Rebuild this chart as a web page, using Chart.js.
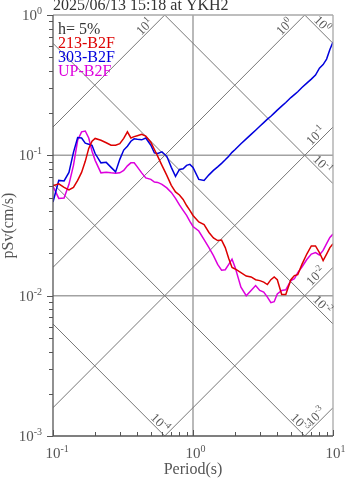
<!DOCTYPE html>
<html>
<head>
<meta charset="utf-8">
<script src="https://cdn.jsdelivr.net/npm/chart.js@4/dist/chart.umd.min.js"></script>
<style>
body{margin:0;background:#fff;}
#holder{width:347px;height:478px;position:relative;}
</style>
</head>
<body>
<div id="holder"><canvas id="chart-area"></canvas></div>
<script>
// chart data (period in s, pSv in cm/s)
var titleText = '2025/06/13 15:18 at YKH2';
var dampText = 'h= 5%';
var seriesNames = ['213-B2F', '303-B2F', 'UP-B2F'];
var seriesColors = ['#dd0000', '#0000dd', '#dd00dd'];
var periods = [0.10,0.11,0.12,0.13,0.14,0.15,0.16,0.17,0.18,0.19,0.20,0.22,0.24,0.26,0.28,0.30,0.32,0.34,0.36,0.38,0.40,0.43,0.46,0.50,0.53,0.56,0.60,0.65,0.70,0.75,0.80,0.85,0.90,0.95,1.0,1.1,1.2,1.3,1.4,1.5,1.6,1.7,1.8,1.9,2.0,2.2,2.4,2.6,2.8,3.0,3.2,3.4,3.6,3.8,4.0,4.3,4.6,5.0,5.3,5.6,6.0,6.5,7.0,7.5,8.0,8.5,9.0,9.5,10];
var sv213 = [0.0606,0.0626,0.0591,0.0567,0.0591,0.0663,0.0756,0.0906,0.112,0.126,0.132,0.128,0.123,0.118,0.118,0.121,0.132,0.147,0.133,0.136,0.138,0.141,0.137,0.124,0.110,0.0984,0.0848,0.0720,0.0611,0.0549,0.0522,0.0485,0.0439,0.0405,0.0373,0.0335,0.0321,0.0282,0.0258,0.0247,0.0249,0.0220,0.0184,0.0159,0.0155,0.0146,0.0138,0.0136,0.0130,0.0128,0.0125,0.0120,0.0130,0.0136,0.0130,0.0102,0.0102,0.0130,0.0139,0.0141,0.0167,0.0198,0.0226,0.0226,0.0203,0.0178,0.0198,0.0220,0.0234];
var sv303 = [0.0465,0.0663,0.0657,0.0756,0.105,0.134,0.133,0.122,0.120,0.118,0.103,0.0884,0.0891,0.0821,0.0762,0.0936,0.109,0.116,0.126,0.131,0.130,0.129,0.133,0.118,0.104,0.103,0.106,0.0984,0.0821,0.0708,0.0794,0.0801,0.0848,0.0862,0.0821,0.0674,0.0663,0.0726,0.0781,0.0828,0.0877,0.0929,0.0984,0.105,0.110,0.121,0.131,0.141,0.151,0.161,0.171,0.181,0.190,0.200,0.210,0.224,0.238,0.258,0.271,0.284,0.304,0.327,0.349,0.373,0.418,0.443,0.485,0.567,0.641];
var svUP = [0.0601,0.0493,0.0497,0.0621,0.0848,0.128,0.147,0.149,0.133,0.107,0.0921,0.0750,0.0759,0.0750,0.0744,0.0750,0.0781,0.0841,0.0884,0.0884,0.0828,0.0750,0.0691,0.0674,0.0645,0.0641,0.0621,0.0586,0.0544,0.0493,0.0443,0.0405,0.0373,0.0338,0.0311,0.0289,0.0251,0.0220,0.0193,0.0167,0.0152,0.0153,0.0167,0.0182,0.0159,0.0115,0.0100,0.0109,0.0118,0.0109,0.0106,0.00976,0.00891,0.00906,0.0103,0.0109,0.0110,0.0128,0.0132,0.0146,0.0160,0.0181,0.0198,0.0203,0.0195,0.0210,0.0235,0.0260,0.0275];

// axes and tripartite reference lines
var tMin = 0.1, tMax = 10, vMin = 0.001, vMax = 1;
var xDecades = [0.1, 1, 10];
var yDecades = [0.001, 0.01, 0.1, 1];
var accLevels = [10, 1, 0.1, 0.01, 0.001];      // pSa lines
var dispLevels = [1, 0.1, 0.01, 0.001, 0.0001]; // Sd lines

var SERIF = '"Liberation Serif", "Times New Roman", serif';

function toPoints(xs, ys) {
    var pts = [];
    for (var i = 0; i < xs.length; i++) pts.push({x: xs[i], y: ys[i]});
    return pts;
}
function expText(v) {
    return String(Math.round(Math.log10(v)));
}
//"10" with a raised exponent
function drawPow(ctx, v, x, y, size, align) {
    var base = '10', ex = expText(v);
    var es = Math.round(size * 0.66);
    ctx.font = size + 'px ' + SERIF;
    var w1 = ctx.measureText(base).width;
    ctx.font = es + 'px ' + SERIF;
    var w2 = ctx.measureText(ex).width;
    var x0 = x;
    if (align == 'right') x0 = x - w1 - w2;
    else if (align == 'center') x0 = x - (w1 + w2) / 2;
    else if (align == 'base') x0 = x - w1 / 2;
    ctx.textAlign = 'left';
    ctx.textBaseline = 'alphabetic';
    ctx.font = size + 'px ' + SERIF;
    ctx.fillText(base, x0, y);
    ctx.font = es + 'px ' + SERIF;
    ctx.fillText(ex, x0 + w1, y - size * 0.4);
}
function seg(ctx, x1, y1, x2, y2) {
    ctx.beginPath(); ctx.moveTo(x1, y1); ctx.lineTo(x2, y2); ctx.stroke();
}

var datasets = [];
seriesNames.forEach(function(name, i) {
    var vals = [sv213, sv303, svUP][i];
    datasets.push({
        label: name, data: toPoints(periods, vals),
        borderColor: seriesColors[i], borderWidth: 1.5,
        pointRadius: 0, tension: 0, fill: false, order: 1
    });
});
accLevels.forEach(function(a) {
    datasets.push({
        label: 'acc', data: [{x: tMin, y: a * tMin / (2 * Math.PI)}, {x: tMax, y: a * tMax / (2 * Math.PI)}],
        borderColor: '#777', borderWidth: 1, pointRadius: 0, order: 5
    });
});
dispLevels.forEach(function(d) {
    datasets.push({
        label: 'disp', data: [{x: tMin, y: 2 * Math.PI * d / tMin}, {x: tMax, y: 2 * Math.PI * d / tMax}],
        borderColor: '#777', borderWidth: 1, pointRadius: 0, order: 5
    });
});

var tripartite = {
    id: 'tripartite',
    beforeDatasetsDraw: function(chart) {
        var ctx = chart.ctx, xs = chart.scales.x, ys = chart.scales.y, a = chart.chartArea;
        ctx.save();
        ctx.strokeStyle = '#a2a2a2';
        ctx.lineWidth = 1.5;
        xDecades.forEach(function(t) {
            if (t > tMin && t < tMax) { var px = xs.getPixelForValue(t); seg(ctx, px, a.top, px, a.bottom); }
        });
        yDecades.forEach(function(v) {
            if (v > vMin && v < vMax) { var py = ys.getPixelForValue(v); seg(ctx, a.left, py, a.right, py); }
        });
        ctx.restore();
    },
    afterDatasetsDraw: function(chart) {
        var ctx = chart.ctx, xs = chart.scales.x, ys = chart.scales.y, a = chart.chartArea;
        ctx.save();
        // frame
        ctx.lineWidth = 1.3;
        ctx.strokeStyle = '#a8a8a8';
        seg(ctx, a.left, a.top, a.right, a.top);
        seg(ctx, a.right, a.top, a.right, a.bottom);
        ctx.strokeStyle = '#555';
        seg(ctx, a.left, a.top, a.left, a.bottom);
        seg(ctx, a.left, a.bottom, a.right, a.bottom);
        // ticks
        ctx.lineWidth = 1;
        for (var k = 0; k < yDecades.length; k++) {
            for (var m = 1; m < 10; m++) {
                var v = yDecades[k] * m;
                if (v > vMax * 1.0001) break;
                var py = Math.round(ys.getPixelForValue(v)) + 0.5;
                seg(ctx, a.left, py, a.left - (m == 1 ? 6 : 4), py);
            }
        }
        for (var k2 = 0; k2 < xDecades.length; k2++) {
            for (var m2 = 1; m2 < 10; m2++) {
                var t = xDecades[k2] * m2;
                if (t > tMax * 1.0001) break;
                var px = Math.round(xs.getPixelForValue(t)) + 0.5;
                seg(ctx, px, a.bottom, px, a.bottom - (m2 == 1 ? 6 : 4));
            }
        }
        // tick labels
        ctx.fillStyle = '#555';
        yDecades.forEach(function(v) { drawPow(ctx, v, 42, ys.getPixelForValue(v) + 5, 15, 'right'); });
        xDecades.forEach(function(t) { drawPow(ctx, t, xs.getPixelForValue(t), a.bottom + 22, 15, 'base'); });
        // axis titles
        ctx.font = '16px ' + SERIF;
        ctx.textAlign = 'center';
        ctx.textBaseline = 'alphabetic';
        ctx.fillText('Period(s)', (a.left + a.right) / 2, 474);
        ctx.save();
        ctx.translate(9, (a.top + a.bottom) / 2);
        ctx.rotate(-Math.PI / 2);
        ctx.textBaseline = 'middle';
        ctx.fillText('pSv(cm/s)', 0, 0);
        ctx.restore();
        // labels of reference lines
        ctx.fillStyle = '#5a5a5a';
        accLevels.forEach(function(lv) {
            var tTop = vMax * 2 * Math.PI / lv, ex, ey, off;
            if (tTop < tMax) { ex = xs.getPixelForValue(tTop); ey = ys.getPixelForValue(vMax); off = 16; }
            else { ex = xs.getPixelForValue(tMax); ey = ys.getPixelForValue(lv * tMax / (2 * Math.PI)); off = 13; }
            ctx.save();
            ctx.translate(ex - off, ey + off);
            ctx.rotate(-Math.PI / 4);
            drawPow(ctx, lv, 0, -2, 13, 'center');
            ctx.restore();
        });
        dispLevels.forEach(function(lv) {
            var tBot = 2 * Math.PI * lv / vMin, ex, ey, off;
            if (tBot < tMax) { ex = xs.getPixelForValue(tBot); ey = ys.getPixelForValue(vMin); off = 9; }
            else { ex = xs.getPixelForValue(tMax); ey = ys.getPixelForValue(2 * Math.PI * lv / tMax); off = 15; }
            ctx.save();
            ctx.translate(ex - off, ey - off);
            ctx.rotate(Math.PI / 4);
            drawPow(ctx, lv, 0, -2, 13, 'center');
            ctx.restore();
        });
        // legend text
        ctx.font = '16px ' + SERIF;
        ctx.textAlign = 'left';
        ctx.fillStyle = '#333';
        ctx.fillText(dampText, a.left + 5, 34);
        seriesNames.forEach(function(n, i) {
            ctx.fillStyle = seriesColors[i];
            ctx.fillText(n, a.left + 5, 48 + 14 * i);
        });
        // title
        ctx.fillStyle = '#333';
        ctx.fillText(titleText, a.left, 10);
        ctx.restore();
    }
};

var config = {
    type: 'line',
    data: {datasets: datasets},
    options: {
        responsive: true,
        maintainAspectRatio: false,
        animation: false,
        layout: {padding: {left: 53, right: 14, top: 15, bottom: 42}},
        scales: {
            x: {type: 'logarithmic', min: tMin, max: tMax, display: false},
            y: {type: 'logarithmic', min: vMin, max: vMax, display: false}
        },
        plugins: {legend: {display: false}, tooltip: {enabled: false}}
    },
    plugins: [tripartite]
};
var ctx = document.getElementById('chart-area').getContext('2d');
var myChart = new Chart(ctx, config);
</script>
</body>
</html>
